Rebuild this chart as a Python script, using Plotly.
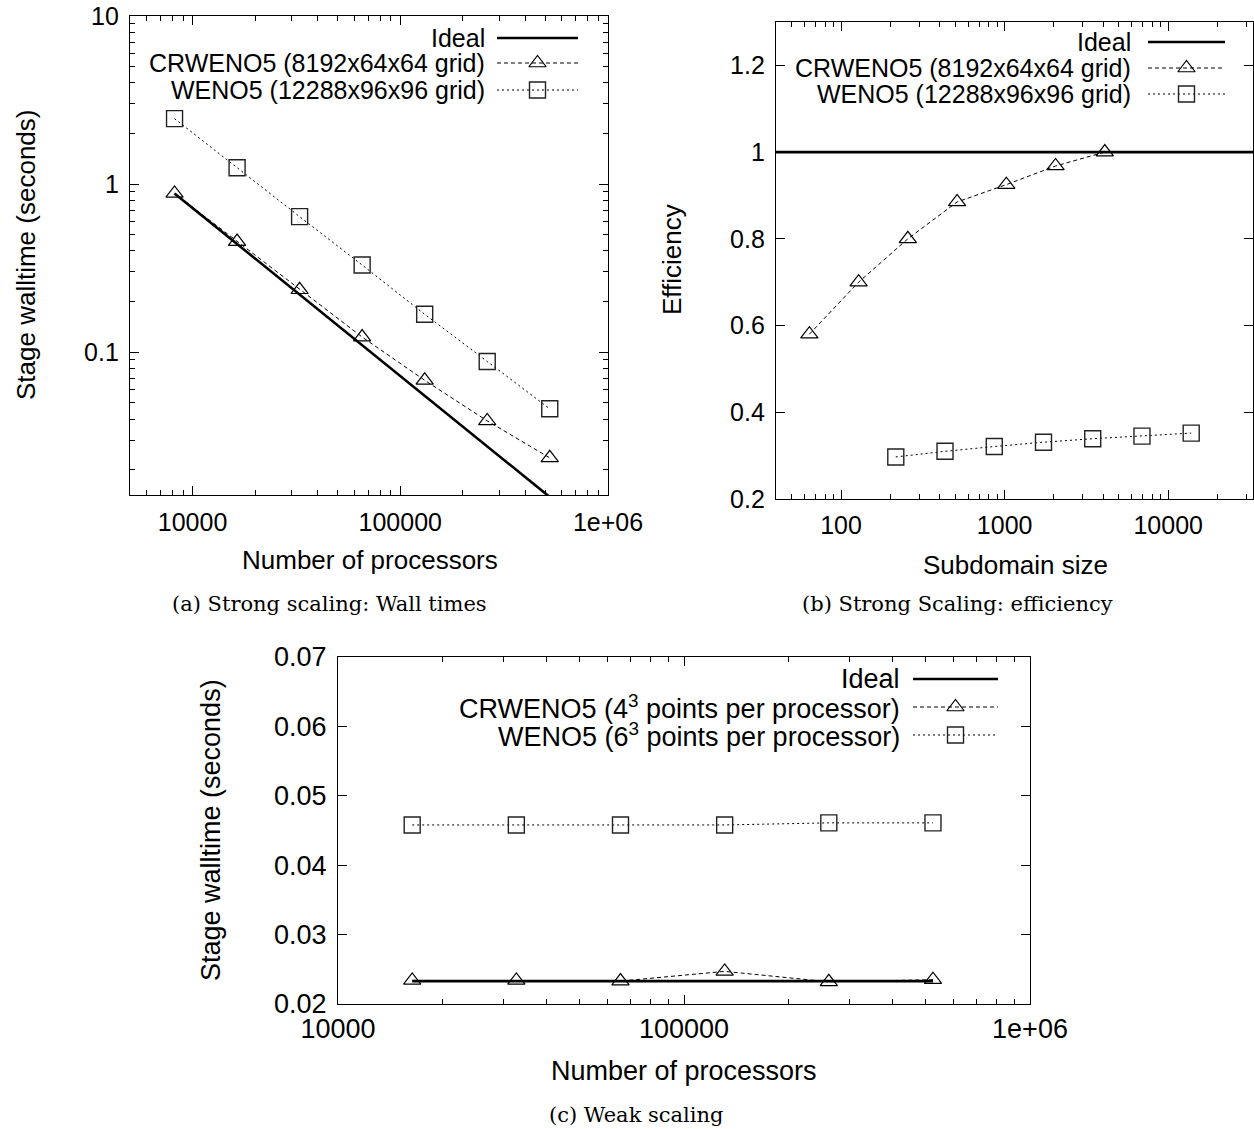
import math
import plotly.graph_objects as go

# ---------------- data ----------------
# (a) strong scaling: wall times
procs_a = [8192, 16384, 32768, 65536, 131072, 262144, 524288]
ideal_a = [0.88, 0.44, 0.22, 0.11, 0.055, 0.0275, 0.01375]
crweno_a = [0.88, 0.455, 0.235, 0.123, 0.068, 0.039, 0.0235]
weno_a = [2.45, 1.25, 0.64, 0.33, 0.168, 0.088, 0.046]

# (b) strong scaling: efficiency
ideal_b_x = [40, 33000]
ideal_b = [1.0, 1.0]
sub_crweno = [64, 128, 256, 512, 1024, 2048, 4096]
eff_crweno = [0.58, 0.70, 0.80, 0.885, 0.925, 0.968, 1.0]
sub_weno = [216, 432, 864, 1728, 3456, 6912, 13824]
eff_weno = [0.297, 0.31, 0.321, 0.331, 0.339, 0.345, 0.352]

# (c) weak scaling
procs_c = [16384, 32768, 65536, 131072, 262144, 524288]
ideal_c = [0.0233, 0.0233, 0.0233, 0.0233, 0.0233, 0.0233]
crweno_c = [0.0234, 0.0234, 0.0233, 0.0247, 0.0232, 0.0235]
weno_c = [0.0458, 0.0458, 0.0458, 0.0458, 0.0461, 0.0461]

# tick labels
xt_a = [1e4, 1e5, 1e6]; xt_a_txt = ["10000", "100000", "1e+06"]
yt_a = [0.1, 1, 10]; yt_a_txt = ["0.1", "1", "10"]
xt_b = [100, 1000, 10000]; xt_b_txt = ["100", "1000", "10000"]
yt_b = [0.2, 0.4, 0.6, 0.8, 1.0, 1.2]; yt_b_txt = ["0.2", "0.4", "0.6", "0.8", "1", "1.2"]
xt_c = [1e4, 1e5, 1e6]; xt_c_txt = ["10000", "100000", "1e+06"]
yt_c = [0.02, 0.03, 0.04, 0.05, 0.06, 0.07]; yt_c_txt = ["0.02", "0.03", "0.04", "0.05", "0.06", "0.07"]

leg_a = ["Ideal", "CRWENO5 (8192x64x64 grid)", "WENO5 (12288x96x96 grid)"]
leg_c = ["Ideal", "CRWENO5 (4<sup>3</sup> points per processor)", "WENO5 (6<sup>3</sup> points per processor)"]

# ---------------- layout helpers ----------------
W, H = 1254, 1129
FONT = "Liberation Sans, Arial, Helvetica, sans-serif"
SERIF = "DejaVu Serif, Liberation Serif, serif"
FS_AB = 25
FS_C = 27

def xd(l, r):
    return [l / W, r / W]

def yd(t, b):
    return [(H - b) / H, (H - t) / H]

def minors(lo, hi):
    out = []
    d = 1e-3
    while d < hi * 10:
        for k in range(2, 10):
            v = k * d
            if lo < v < hi:
                out.append(v)
        d *= 10
    return out

box_a = (130, 608, 16, 495)
box_b = (776, 1253, 22, 499)
box_c = (338, 1030, 657, 1004)

ideal_style = dict(color="black", width=2.6)
cr_line = dict(color="black", width=1, dash="4px,3px")
we_line = dict(color="black", width=1, dash="2px,3px")
tri = dict(symbol="triangle-up-open", size=15, color="black", line=dict(width=1.2, color="black"))
sq = dict(symbol="square-open", size=16, color="#222", line=dict(width=1.4, color="#222"))

fig = go.Figure()

# (a)
fig.add_trace(go.Scatter(x=procs_a, y=ideal_a, mode="lines", line=ideal_style, xaxis="x", yaxis="y"))
fig.add_trace(go.Scatter(x=procs_a, y=crweno_a, mode="lines+markers", line=cr_line, marker=tri, xaxis="x", yaxis="y"))
fig.add_trace(go.Scatter(x=procs_a, y=weno_a, mode="lines+markers", line=we_line, marker=sq, xaxis="x", yaxis="y"))
# (b)
fig.add_trace(go.Scatter(x=ideal_b_x, y=ideal_b, mode="lines", line=ideal_style, xaxis="x2", yaxis="y2"))
fig.add_trace(go.Scatter(x=sub_crweno, y=eff_crweno, mode="lines+markers", line=cr_line, marker=tri, xaxis="x2", yaxis="y2"))
fig.add_trace(go.Scatter(x=sub_weno, y=eff_weno, mode="lines+markers", line=we_line, marker=sq, xaxis="x2", yaxis="y2"))
# (c)
fig.add_trace(go.Scatter(x=procs_c, y=ideal_c, mode="lines", line=ideal_style, xaxis="x3", yaxis="y3"))
fig.add_trace(go.Scatter(x=procs_c, y=crweno_c, mode="lines+markers", line=cr_line, marker=tri, xaxis="x3", yaxis="y3"))
fig.add_trace(go.Scatter(x=procs_c, y=weno_c, mode="lines+markers", line=we_line, marker=sq, xaxis="x3", yaxis="y3"))

# legends (gnuplot style: text right-aligned, sample on the right)
def add_legend(box, ax_x, ax_y, labels, text_r, s0, s1, rows, fsize):
    l, r, t, b = box
    fx = lambda px: (px - l) / (r - l)
    fy = lambda py: 1 - (py - t) / (b - t)
    styles = [(ideal_style, None), (cr_line, tri), (we_line, sq)]
    for lab, row, (ls, mk) in zip(labels, rows, styles):
        fig.add_trace(go.Scatter(x=[fx(s0), fx(s1)], y=[fy(row)] * 2, mode="lines", line=ls,
                                 xaxis=ax_x, yaxis=ax_y, hoverinfo="skip"))
        if mk is not None:
            fig.add_trace(go.Scatter(x=[fx((s0 + s1) / 2)], y=[fy(row)], mode="markers", marker=mk,
                                     xaxis=ax_x, yaxis=ax_y, hoverinfo="skip"))
        fig.add_annotation(x=text_r / W, y=(H - row) / H, xref="paper", yref="paper",
                           xanchor="right", yanchor="middle", text=lab, showarrow=False,
                           font=dict(family=FONT, size=fsize, color="black"))

add_legend(box_a, "x4", "y4", leg_a, 487, 497, 578, [38, 63, 90], FS_AB)
add_legend(box_b, "x5", "y5", leg_a, 1133, 1148, 1225, [42, 68, 94], FS_AB)
add_legend(box_c, "x6", "y6", leg_c, 902, 913, 998, [679, 707, 735], FS_C)

def axis(dom, typ, rng, tv, tt, fsize, minor_vals=None, standoff=4):
    a = dict(domain=dom, type=typ, range=rng, showgrid=False, zeroline=False, automargin=False,
             showline=True, linecolor="black", linewidth=1.3, mirror="allticks",
             ticks="inside", ticklen=9, tickwidth=1, tickcolor="black",
             tickmode="array", tickvals=tv, ticktext=tt, ticklabelstandoff=standoff,
             tickfont=dict(family=FONT, size=fsize, color="black"))
    if minor_vals:
        a["minor"] = dict(tickmode="array", tickvals=minor_vals, ticks="inside", ticklen=5,
                          tickwidth=1, tickcolor="black", showgrid=False)
    return a

lg = math.log10
rx_a = [lg(5000), 6]; ry_a = [-1.85, 1]
rx_b = [lg(40), lg(33000)]; ry_b = [0.2, 1.3]
rx_c = [4, 6]; ry_c = [0.02, 0.07]

ov = lambda dom: dict(domain=dom, range=[0, 1], visible=False, fixedrange=True, automargin=False)

fig.update_layout(
    width=W, height=H, margin=dict(l=0, r=0, t=0, b=0, autoexpand=False),
    paper_bgcolor="white", plot_bgcolor="white", showlegend=False,
    xaxis=axis(xd(box_a[0], box_a[1]), "log", rx_a, xt_a, xt_a_txt, FS_AB, minors(5000, 1e6), 5),
    yaxis=axis(yd(box_a[2], box_a[3]), "log", ry_a, yt_a, yt_a_txt, FS_AB, minors(0.014, 10), 5),
    xaxis2=axis(xd(box_b[0], box_b[1]), "log", rx_b, xt_b, xt_b_txt, FS_AB, minors(40, 33000), 4),
    yaxis2=axis(yd(box_b[2], box_b[3]), "linear", ry_b, yt_b, yt_b_txt, FS_AB, None, 5),
    xaxis3=axis(xd(box_c[0], box_c[1]), "log", rx_c, xt_c, xt_c_txt, FS_C, minors(1e4, 1e6), 0),
    yaxis3=axis(yd(box_c[2], box_c[3]), "linear", ry_c, yt_c, yt_c_txt, FS_C, None, 5),
    xaxis4=dict(ov(xd(box_a[0], box_a[1])), overlaying="x"),
    yaxis4=dict(ov(yd(box_a[2], box_a[3])), overlaying="y"),
    xaxis5=dict(ov(xd(box_b[0], box_b[1])), overlaying="x2"),
    yaxis5=dict(ov(yd(box_b[2], box_b[3])), overlaying="y2"),
    xaxis6=dict(ov(xd(box_c[0], box_c[1])), overlaying="x3"),
    yaxis6=dict(ov(yd(box_c[2], box_c[3])), overlaying="y3"),
)
fig.update_layout(xaxis2_anchor="y2", yaxis2_anchor="x2", xaxis3_anchor="y3", yaxis3_anchor="x3",
                  xaxis_anchor="y", yaxis_anchor="x",
                  xaxis4_anchor="y4", yaxis4_anchor="x4", xaxis5_anchor="y5", yaxis5_anchor="x5",
                  xaxis6_anchor="y6", yaxis6_anchor="x6")

def label(x, y, text, size, angle=0, family=FONT):
    fig.add_annotation(x=x / W, y=(H - y) / H, xref="paper", yref="paper", text=text,
                       showarrow=False, textangle=angle, xanchor="center", yanchor="middle",
                       font=dict(family=family, size=size, color="black"))

# axis titles
label(26, 255, "Stage walltime (seconds)", 26, -90)
label(370, 560, "Number of processors", 26)
label(672, 260, "Efficiency", 26, -90)
label(1015, 565, "Subdomain size", 26)
label(211, 830, "Stage walltime (seconds)", 27, -90)
label(684, 1071, "Number of processors", 27)

# captions
label(329, 604, "(a) Strong scaling: Wall times", 21, 0, SERIF)
label(958, 604, "(b) Strong Scaling: efficiency", 21, 0, SERIF)
label(636, 1115, "(c) Weak scaling", 21, 0, SERIF)

fig.write_html("out.html")
